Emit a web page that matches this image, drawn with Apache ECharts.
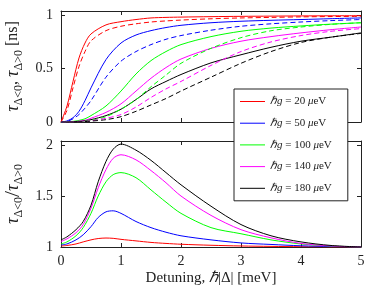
<!DOCTYPE html>
<html>
<head>
<meta charset="utf-8">
<script src="https://cdn.jsdelivr.net/npm/echarts@6.0.0/dist/echarts.min.js"></script>
<style>html,body{margin:0;padding:0;background:#fff}#c{width:374px;height:295px}</style>
</head>
<body>
<div id="c"></div>
<script>
// ---- data ----
const gValues = [20, 50, 100, 140, 180];
const colors = ['#ff0000', '#0000ff', '#00ff00', '#ff00ff', '#000000'];
const xTicks = [0, 1, 2, 3, 4, 5];

const xTop = [0, 0.1, 0.2, 0.3, 0.4, 0.5, 0.75, 1, 1.25, 1.5, 1.75, 2, 2.5, 3, 3.5, 4, 4.5, 5];
const redSolid   = [0, 0.15, 0.38, 0.60, 0.74, 0.825, 0.91, 0.94, 0.96, 0.975, 0.98, 0.983, 0.987, 0.99, 0.992, 0.994, 0.995, 0.996];
const redDash    = [0, 0.11, 0.32, 0.52, 0.66, 0.76, 0.856, 0.897, 0.92, 0.937, 0.947, 0.955, 0.967, 0.975, 0.98, 0.985, 0.988, 0.99];
const blueSolid  = [0, 0.01, 0.04, 0.10, 0.20, 0.32, 0.585, 0.74, 0.815, 0.856, 0.885, 0.906, 0.93, 0.944, 0.953, 0.96, 0.968, 0.975];
const blueDash   = [0, 0.005, 0.03, 0.07, 0.13, 0.20, 0.42, 0.57, 0.66, 0.725, 0.775, 0.81, 0.86, 0.897, 0.92, 0.937, 0.95, 0.96];
const greenSolid = [0, 0.002, 0.006, 0.015, 0.03, 0.06, 0.15, 0.29, 0.45, 0.575, 0.66, 0.725, 0.80, 0.85, 0.88, 0.90, 0.917, 0.93];
const greenDash  = [0, 0, 0.002, 0.004, 0.008, 0.015, 0.05, 0.12, 0.21, 0.33, 0.44, 0.55, 0.69, 0.79, 0.855, 0.89, 0.915, 0.93];
const magSolid   = [0, 0, 0.003, 0.008, 0.016, 0.035, 0.09, 0.17, 0.29, 0.41, 0.51, 0.59, 0.69, 0.757, 0.80, 0.835, 0.865, 0.89];
const magDash    = [0, 0, 0.001, 0.003, 0.006, 0.012, 0.035, 0.07, 0.14, 0.23, 0.31, 0.38, 0.53, 0.66, 0.75, 0.81, 0.85, 0.875];
const blackSolid = [0, 0, 0.002, 0.005, 0.011, 0.022, 0.06, 0.12, 0.21, 0.31, 0.38, 0.445, 0.554, 0.63, 0.70, 0.757, 0.795, 0.835];
const blackDash  = [0, 0, 0, 0.002, 0.004, 0.008, 0.022, 0.05, 0.10, 0.16, 0.22, 0.29, 0.42, 0.55, 0.66, 0.745, 0.795, 0.83];

const xRatio = [0, 0.1, 0.25, 0.37, 0.5, 0.62, 0.75, 0.87, 1, 1.25, 1.5, 1.75, 2, 2.5, 3, 3.5, 4, 4.5, 5];
const redRatio   = [1.01, 1.015, 1.03, 1.05, 1.07, 1.083, 1.088, 1.085, 1.075, 1.06, 1.045, 1.035, 1.027, 1.017, 1.01, 1.006, 1.003, 1.001, 1.0];
const blueRatio  = [1.02, 1.03, 1.07, 1.12, 1.20, 1.29, 1.345, 1.355, 1.33, 1.25, 1.19, 1.145, 1.11, 1.07, 1.04, 1.025, 1.012, 1.005, 1.0];
const greenRatio = [1.03, 1.05, 1.11, 1.19, 1.33, 1.50, 1.64, 1.71, 1.73, 1.68, 1.56, 1.44, 1.33, 1.19, 1.13, 1.07, 1.03, 1.01, 1.0];
const magRatio   = [1.055, 1.08, 1.14, 1.22, 1.38, 1.58, 1.76, 1.87, 1.905, 1.855, 1.75, 1.63, 1.50, 1.31, 1.17, 1.09, 1.035, 1.01, 1.0];
const blackRatio = [1.07, 1.10, 1.17, 1.25, 1.41, 1.64, 1.84, 1.96, 2.01, 1.95, 1.85, 1.73, 1.61, 1.40, 1.22, 1.11, 1.05, 1.015, 1.0];

const solidSets = [redSolid, blueSolid, greenSolid, magSolid, blackSolid];
const dashSets = [redDash, blueDash, greenDash, magDash, blackDash];
const ratioSets = [redRatio, blueRatio, greenRatio, magRatio, blackRatio];

// ---- chart ----
const SERIF = 'Liberation Serif';
const AX = '#222';
const pairs = (xs, ys) => xs.map((x, i) => [x, ys[i]]);
const halfFmt = v => (Math.abs(v * 2 - Math.round(v * 2)) < 1e-6 ? String(+v.toFixed(1)) : '');

function xAx(grid, pos, labels, extra) {
  return Object.assign({
    type: 'value', gridIndex: grid, position: pos, min: 0, max: 5, interval: 1,
    axisLine: { show: true, onZero: false, lineStyle: { color: AX, width: 1 } },
    axisTick: { show: true, inside: true, length: 4, lineStyle: { color: AX } },
    axisLabel: { show: labels, margin: 7, fontFamily: SERIF, fontSize: 14, color: AX },
    splitLine: { show: false }
  }, extra || {});
}
function yAx(grid, pos, min, max, labels, extra) {
  return Object.assign({
    type: 'value', gridIndex: grid, position: pos, min: min, max: max, interval: 0.5,
    axisLine: { show: true, onZero: false, lineStyle: { color: AX, width: 1 } },
    axisTick: { show: true, inside: true, length: 4, lineStyle: { color: AX } },
    axisLabel: { show: labels, margin: 8, fontFamily: SERIF, fontSize: 14, color: AX, formatter: halfFmt },
    splitLine: { show: false }
  }, extra || {});
}
const nameRich = {
  t: { fontFamily: SERIF, fontStyle: 'italic', fontSize: 18, lineHeight: 18, color: AX },
  s: { fontFamily: SERIF, fontSize: 12, lineHeight: 12, padding: [11, 0, 0, 0], color: AX },
  n: { fontFamily: SERIF, fontSize: 16, lineHeight: 18, color: AX },
  b: { fontFamily: SERIF, fontSize: 22, lineHeight: 18, color: AX },
  i: { fontFamily: SERIF, fontStyle: 'italic', fontSize: 15, lineHeight: 16, color: AX }
};

const series = [];
function addLine(name, xi, yi, xs, ys, color, dashed) {
  series.push({
    name: name, type: 'line', xAxisIndex: xi, yAxisIndex: yi, data: pairs(xs, ys),
    smooth: 0.3, showSymbol: false, symbol: 'none',
    lineStyle: { color: color, width: 1, type: dashed ? [5, 3] : 'solid' },
    itemStyle: { color: color }, z: 3
  });
}
gValues.forEach((g, k) => addLine('g' + g, 0, 0, xTop, solidSets[k], colors[k], false));
gValues.forEach((g, k) => addLine('d' + g, 0, 0, xTop, dashSets[k], colors[k], true));
gValues.forEach((g, k) => addLine('r' + g, 2, 2, xRatio, ratioSets[k], colors[k], false));

const option = {
  animation: false,
  backgroundColor: '#fff',
  grid: [
    { left: 61, top: 11, width: 300, height: 111, containLabel: false, outerBoundsMode: 'none' },
    { left: 61, top: 141, width: 300, height: 106, containLabel: false, outerBoundsMode: 'none' }
  ],
  xAxis: [
    xAx(0, 'bottom', false),
    xAx(0, 'top', false),
    xAx(1, 'bottom', true, {
      name: 'Detuning, {i|ℏ}|Δ| [meV]', nameLocation: 'middle', nameGap: 23,
      nameTextStyle: { fontFamily: SERIF, fontSize: 15, color: AX, rich: nameRich }
    }),
    xAx(1, 'top', false)
  ],
  yAxis: [
    yAx(0, 'left', 0, 1.04, true, {
      name: '{t|τ}{s|Δ<0}{n|, }{t|τ}{s|Δ>0}{n| [ns]}', nameLocation: 'middle', nameGap: 32,
      nameTextStyle: { fontFamily: SERIF, fontSize: 16, color: AX, rich: nameRich }
    }),
    yAx(0, 'right', 0, 1.04, false),
    yAx(1, 'left', 1, 2.04, true, {
      name: '{t|τ}{s|Δ<0}{b|/}{t|τ}{s|Δ>0}', nameLocation: 'middle', nameGap: 30,
      nameTextStyle: { fontFamily: SERIF, fontSize: 16, color: AX, rich: nameRich }
    }),
    yAx(1, 'right', 1, 2.04, false)
  ],
  legend: {
    data: gValues.map(g => 'g' + g),
    orient: 'vertical', left: 234, top: 89,
    backgroundColor: '#fff', borderColor: AX, borderWidth: 1, borderRadius: 0,
    padding: [7, 16, 7, 6], itemGap: 10.7, itemWidth: 25, itemHeight: 10,
    icon: 'path://M0,4.5L25,4.5L25,5.5L0,5.5Z',
    formatter: name => {
      const g = name.slice(1);
      return '{i|ℏg}{n| = ' + g + ' }{i|μ}{n|eV}';
    },
    textStyle: {
      fontFamily: SERIF, fontSize: 11, color: AX, lineHeight: 10,
      rich: {
        i: { fontFamily: SERIF, fontStyle: 'italic', fontSize: 11, color: AX },
        n: { fontFamily: SERIF, fontSize: 11, color: AX }
      }
    },
    z: 10
  },
  series: series
};

const chart = echarts.init(document.getElementById('c'), null, { renderer: 'canvas' });
chart.setOption(option);
</script>
</body>
</html>
